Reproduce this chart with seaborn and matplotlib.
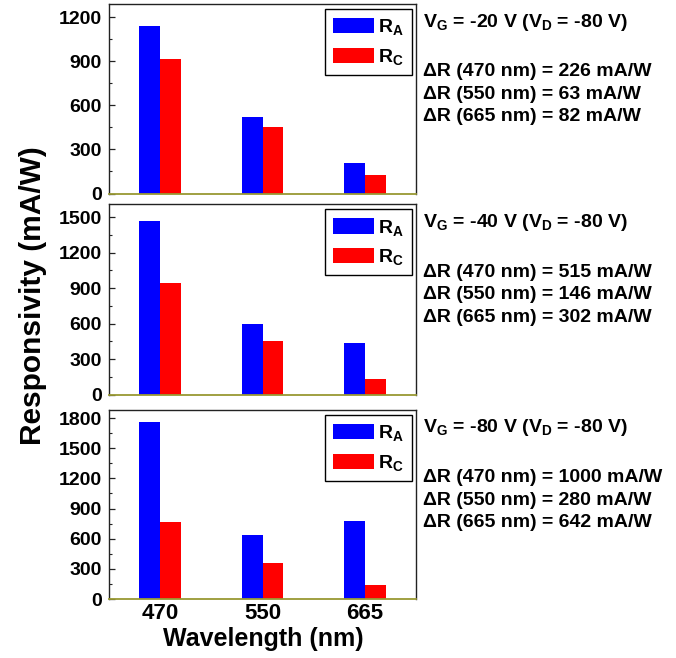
import matplotlib
matplotlib.use("Agg")
import matplotlib.pyplot as plt
import seaborn as sns
import pandas as pd
from matplotlib.ticker import MultipleLocator

# ---------------- data ----------------
wavelengths = ["470", "550", "665"]
series = ["R_A", "R_C"]
series_labels = [r"R$_\mathbf{A}$", r"R$_\mathbf{C}$"]

ra_vg20 = [1140, 518, 210]
rc_vg20 = [914, 455, 128]
ra_vg40 = [1464, 597, 436]
rc_vg40 = [946, 450, 135]
ra_vg80 = [1763, 635, 778]
rc_vg80 = [762, 356, 136]

vg_titles = [r"V$_\mathbf{G}$ = -20 V (V$_\mathbf{D}$ = -80 V)",
             r"V$_\mathbf{G}$ = -40 V (V$_\mathbf{D}$ = -80 V)",
             r"V$_\mathbf{G}$ = -80 V (V$_\mathbf{D}$ = -80 V)"]
delta_texts = [
    ["ΔR (470 nm) = 226 mA/W", "ΔR (550 nm) = 63 mA/W", "ΔR (665 nm) = 82 mA/W"],
    ["ΔR (470 nm) = 515 mA/W", "ΔR (550 nm) = 146 mA/W", "ΔR (665 nm) = 302 mA/W"],
    ["ΔR (470 nm) = 1000 mA/W", "ΔR (550 nm) = 280 mA/W", "ΔR (665 nm) = 642 mA/W"],
]
y_tops = [1290, 1610, 1880]

panels = [(ra_vg20, rc_vg20), (ra_vg40, rc_vg40), (ra_vg80, rc_vg80)]

# ---------------- style ----------------
sns.set_style("white")
plt.rcParams["font.family"] = ["Liberation Sans", "DejaVu Sans"]
plt.rcParams["font.weight"] = "bold"
plt.rcParams["text.color"] = "black"
plt.rcParams["axes.labelcolor"] = "black"
plt.rcParams["xtick.color"] = "black"
plt.rcParams["ytick.color"] = "black"
plt.rcParams["mathtext.fontset"] = "custom"
plt.rcParams["mathtext.rm"] = "Liberation Sans:bold"
plt.rcParams["mathtext.it"] = "Liberation Sans:bold"
plt.rcParams["mathtext.bf"] = "Liberation Sans:bold"

colors = ["#0000ff", "#ff0000"]
frame_col = "#222222"
bottom_col = "#999933"

W, H = 676, 658
fig = plt.figure(figsize=(W / 100, H / 100), dpi=100)

# axes placement in pixels: (top, bottom)
left_px, right_px = 109, 416
rows_px = [(4, 193.5), (204, 394.5), (410, 599)]

for i, ((ra, rc), (top, bot)) in enumerate(zip(panels, rows_px)):
    ax = fig.add_axes([left_px / W, (H - bot) / H, (right_px - left_px) / W, (bot - top) / H])
    df = pd.DataFrame({
        "Wavelength": wavelengths * 2,
        "Series": [series[0]] * 3 + [series[1]] * 3,
        "Responsivity": list(ra) + list(rc),
    })
    sns.barplot(data=df, x="Wavelength", y="Responsivity", hue="Series",
                order=wavelengths, hue_order=series, palette=colors,
                saturation=1, width=0.41, gap=0, errorbar=None, linewidth=0, ax=ax)
    ax.set_ylim(0, y_tops[i])
    ax.set_xlim(-0.5, 2.5)
    ax.yaxis.set_major_locator(MultipleLocator(300))
    ax.yaxis.set_minor_locator(MultipleLocator(150))
    ax.set_xlabel("")
    ax.set_ylabel("")
    for s in ["left", "top", "right"]:
        ax.spines[s].set_color(frame_col)
        ax.spines[s].set_linewidth(1.0)
    ax.spines["bottom"].set_color(bottom_col)
    ax.spines["bottom"].set_linewidth(1.3)
    ax.tick_params(axis="y", which="major", direction="in", length=4, width=0.9,
                   color=frame_col, labelcolor="black", labelsize=14, pad=5, left=True)
    ax.tick_params(axis="y", which="minor", direction="in", length=2.5, width=0.8,
                   color=frame_col, left=True)
    ax.tick_params(axis="x", length=0, labelsize=16, pad=3, labelcolor="black")
    for lab in ax.get_yticklabels() + ax.get_xticklabels():
        lab.set_fontweight("bold")
    if i < 2:
        ax.tick_params(axis="x", labelbottom=False)

    handles, _ = ax.get_legend_handles_labels()
    leg = ax.legend(handles, series_labels, loc="upper right",
                    bbox_to_anchor=(0.987, 0.972), fontsize=14,
                    handlelength=2.1, handleheight=0.85, handletextpad=0.2,
                    labelspacing=0.5, borderpad=0.42, borderaxespad=0,
                    frameon=True, fancybox=False, framealpha=1,
                    labelcolor="black")
    leg.get_frame().set_edgecolor("black")
    leg.get_frame().set_linewidth(1.0)

    ax.text(1.0228, 0.905, vg_titles[i], transform=ax.transAxes,
            fontsize=14, fontweight="bold", va="center", ha="left", color="black")
    for j, t in enumerate(delta_texts[i]):
        ax.text(1.0228, 0.642 - j * 0.119, t, transform=ax.transAxes,
                fontsize=14, fontweight="bold", va="center", ha="left", color="black")

fig.text(33 / W, 1 - 296 / H, "Responsivity (mA/W)", rotation=90,
         ha="center", va="center", fontsize=21.5, fontweight="bold", color="black")
fig.text(263 / W, 1 - 639 / H, "Wavelength (nm)", ha="center", va="center",
         fontsize=18, fontweight="bold", color="black")

fig.savefig("out.png", dpi=100)
